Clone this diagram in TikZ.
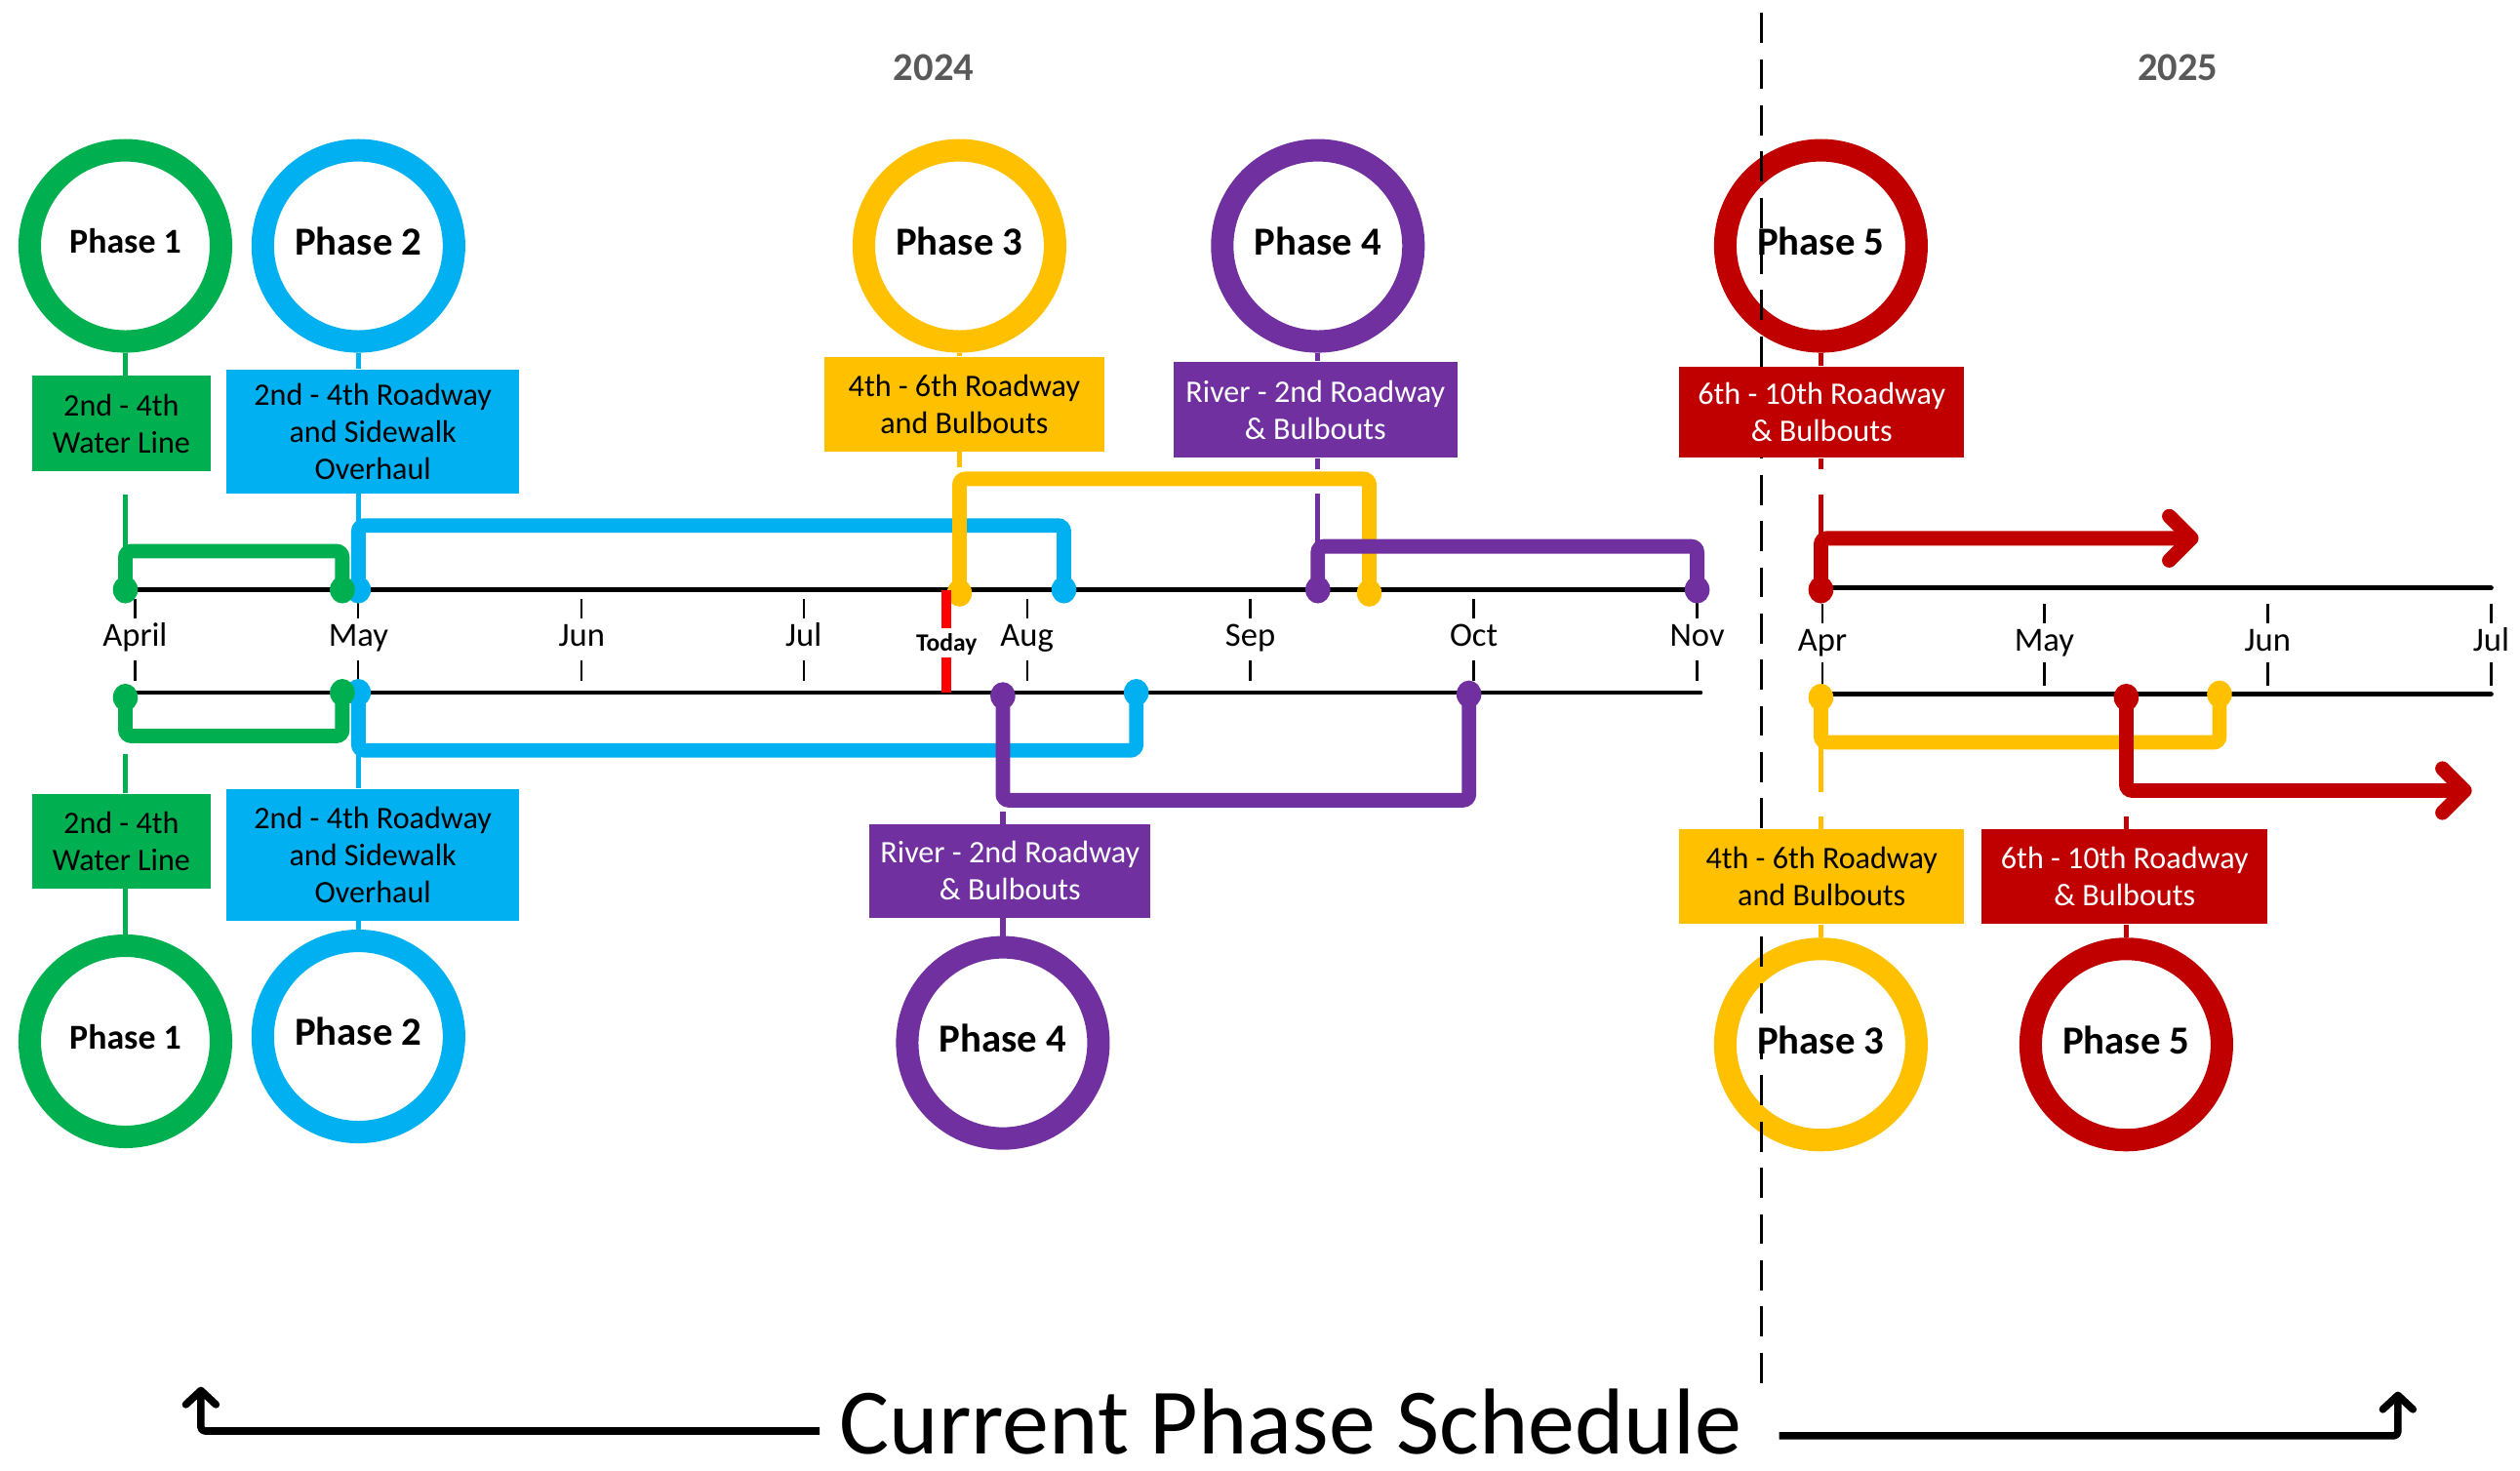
\documentclass[tikz,border=0pt]{standalone}
\usepackage{fontspec}
\setmainfont{Carlito}
\usetikzlibrary{arrows.meta}
\definecolor{pgreen}{HTML}{00B050}
\definecolor{pblue}{HTML}{00B0F0}
\definecolor{pyellow}{HTML}{FFC000}
\definecolor{ppurple}{HTML}{7030A0}
\definecolor{pred}{HTML}{C00000}
\definecolor{yeargray}{HTML}{595959}
\begin{document}
\begin{tikzpicture}[x=0.8pt,y=-0.8pt,
  ring/.style={circle, draw=#1, line width=11.2pt, fill=white, minimum size=95.2pt, inner sep=0pt, text depth=4.8pt, font=\bfseries\fontsize{19.8pt}{22pt}\selectfont},
  smallphase/.style={font=\bfseries\fontsize{17.4pt}{20pt}\selectfont},
  tag/.style={fill=#1, inner sep=0pt, align=center, font=\fontsize{15.6pt}{18.4pt}\selectfont},
  bracket/.style={draw=#1, line width=7.2pt, rounded corners=3pt},
  stem/.style={draw=#1, line width=2.6pt},
  timeline/.style={draw=black, line width=2.4pt, line cap=round},
  tickmark/.style={draw=black, line width=1.1pt},
  month/.style={font=\fontsize{16.8pt}{18pt}\selectfont, anchor=base, inner sep=0pt},
  year/.style={font=\bfseries\fontsize{19.7pt}{22pt}\selectfont, text=yeargray, anchor=base, inner sep=0pt},
  redarrow/.style={draw=pred, line width=7.2pt, rounded corners=3pt, -{Straight Barb[length=11pt,width=22pt,line cap=round,line join=round]}},
  titlearrow/.style={draw=black, line width=3.7pt, rounded corners=2pt, line join=round, -{Straight Barb[length=7pt,width=15pt,line cap=round,line join=round]}},
]
\useasboundingbox (0,0) rectangle (1568,915);

% ---------- timelines ----------
\coordinate (t1L) at (78,367);  \coordinate (t1R) at (1058,367);
\coordinate (t2L) at (78,431);  \coordinate (t2R) at (1058,431);
\coordinate (t3L) at (1133,366); \coordinate (t3R) at (1550,366);
\coordinate (t4L) at (1133,432); \coordinate (t4R) at (1550,432);
\draw[timeline] (t1L) -- (t1R);
\draw[timeline] (t2L) -- (t2R);
\draw[timeline] (t3L) -- (t3R);
\draw[timeline] (t4L) -- (t4R);

% ---------- ticks and month labels ----------
\foreach \x/\m in {84/April,223/May,362/Jun,500/Jul,639/Aug,778/Sep,917/Oct,1056/Nov}{
  \draw[tickmark] (\x,373) -- (\x,385);
  \draw[tickmark] (\x,411) -- (\x,424);
  \node[month] (m\m) at (\x,402) {\m};
}
\foreach \x/\m in {1134/Apr,1272/May,1411/Jun,1550/Jul}{
  \draw[tickmark] (\x,376) -- (\x,388);
  \draw[tickmark] (\x,412) -- (\x,427);
  \node[month] (n\m) at (\x,405) {\m};
}

% ---------- year labels ----------
\node[year] (y24) at (581,50) {2024};
\node[year] (y25) at (1355,50) {2025};

% ---------- top brackets ----------
\coordinate (gA) at (78,367); \coordinate (gTL) at (78,343); \coordinate (gTR) at (213,343); \coordinate (gB) at (213,367);
\coordinate (bA) at (223,367); \coordinate (bTL) at (223,327); \coordinate (bTR) at (662,327); \coordinate (bB) at (662,367);
\coordinate (yA) at (597,369); \coordinate (yTL) at (597,298); \coordinate (yTR) at (852,298); \coordinate (yB) at (852,369);
\coordinate (pA) at (820,367); \coordinate (pTL) at (820,340); \coordinate (pTR) at (1056,340); \coordinate (pB) at (1056,367);
\coordinate (rA) at (1133,367); \coordinate (rTL) at (1133,335); \coordinate (rTE) at (1368,335);
\draw[bracket=pblue] (bA) -- (bTL) -- (bTR) -- (bB);
\draw[bracket=pyellow] (yA) -- (yTL) -- (yTR) -- (yB);
\draw[bracket=ppurple] (pA) -- (pTL) -- (pTR) -- (pB);
\draw[bracket=pgreen] (gA) -- (gTL) -- (gTR) -- (gB);
\draw[redarrow] (rA) -- (rTL) -- (rTE);

% ---------- bottom brackets ----------
\coordinate (GA) at (78,434); \coordinate (GBL) at (78,458); \coordinate (GBR) at (213,458); \coordinate (GB) at (213,431);
\coordinate (BA) at (223,431); \coordinate (BBL) at (223,467); \coordinate (BBR) at (707,467); \coordinate (BB) at (707,431);
\coordinate (PA) at (624,433); \coordinate (PBL) at (624,498); \coordinate (PBR) at (914,498); \coordinate (PB) at (914,432);
\coordinate (YA) at (1133,434); \coordinate (YBL) at (1133,462); \coordinate (YBR) at (1381,462); \coordinate (YB) at (1381,432);
\coordinate (RA) at (1323,434); \coordinate (RBL) at (1323,492); \coordinate (RBE) at (1538,492);
\draw[bracket=pblue] (BA) -- (BBL) -- (BBR) -- (BB);
\draw[bracket=ppurple] (PA) -- (PBL) -- (PBR) -- (PB);
\draw[bracket=pgreen] (GA) -- (GBL) -- (GBR) -- (GB);
\draw[bracket=pyellow] (YA) -- (YBL) -- (YBR) -- (YB);
\draw[redarrow] (RA) -- (RBL) -- (RBE);

% ---------- dots ----------
\foreach \p/\c in {bA/pblue,bB/pblue,yA/pyellow,yB/pyellow,pA/ppurple,pB/ppurple,gA/pgreen,gB/pgreen,rA/pred,
                   BA/pblue,BB/pblue,PA/ppurple,PB/ppurple,GA/pgreen,GB/pgreen,YA/pyellow,YB/pyellow,RA/pred}{
  \fill[\c] (\p) ellipse [x radius=6.2pt, y radius=6.8pt];
}

% ---------- today marker ----------
\coordinate (tdA) at (589,367); \coordinate (tdB) at (589,391);
\coordinate (tdC) at (589,409); \coordinate (tdD) at (589,431);
\draw[red, line width=4.8pt] (tdA) -- (tdB);
\draw[red, line width=4.8pt] (tdC) -- (tdD);
\node[font=\bfseries\fontsize{12.4pt}{14pt}\selectfont, inner sep=0pt] (today) at (589,401) {Today};

% ---------- circles ----------
\node[ring=pgreen, smallphase] (c1t) at (78,153) {Phase 1};
\node[ring=pblue] (c2t) at (223,153) {Phase 2};
\node[ring=pyellow] (c3t) at (597,153) {Phase 3};
\node[ring=ppurple] (c4t) at (820,153) {Phase 4};
\node[ring=pred] (c5t) at (1133,153) {Phase 5};
\node[ring=pgreen, smallphase] (c1b) at (78,648) {Phase 1};
\node[ring=pblue] (c2b) at (223,645) {Phase 2};
\node[ring=ppurple] (c4b) at (624,649) {Phase 4};
\node[ring=pyellow] (c3b) at (1133,650) {Phase 3};
\node[ring=pred] (c5b) at (1323,650) {Phase 5};

% ---------- year divider ----------
\coordinate (divT) at (1096,8); \coordinate (divB) at (1096,865);
\draw[line width=1pt, dash pattern=on 15pt off 8pt] (divT) -- (divB);

% ---------- boxes ----------
\node[tag=pgreen, minimum width=88.8pt, minimum height=47.2pt] (b1t) at (75.5,263.5) {2nd - 4th\\Water Line};
\node[tag=pblue, minimum width=145.6pt, minimum height=61.6pt] (b2t) at (232,268.5) {2nd - 4th Roadway\\and Sidewalk\\Overhaul};
\node[tag=pyellow, minimum width=139.2pt, minimum height=47.2pt] (b3t) at (600,251.5) {4th - 6th Roadway\\and Bulbouts};
\node[tag=ppurple, text=white, minimum width=141.6pt, minimum height=48pt] (b4t) at (818.5,255) {River - 2nd Roadway\\\& Bulbouts};
\node[tag=pred, text=white, minimum width=141.6pt, minimum height=45.6pt] (b5t) at (1133.5,256.5) {6th - 10th Roadway\\\& Bulbouts};
\node[tag=pgreen, minimum width=88.8pt, minimum height=47.2pt] (b1b) at (75.5,523.5) {2nd - 4th\\Water Line};
\node[tag=pblue, minimum width=145.6pt, minimum height=65.6pt] (b2b) at (232,532) {2nd - 4th Roadway\\and Sidewalk\\Overhaul};
\node[tag=ppurple, text=white, minimum width=140pt, minimum height=46.4pt] (b4b) at (628.5,542) {River - 2nd Roadway\\\& Bulbouts};
\node[tag=pyellow, minimum width=141.6pt, minimum height=47.2pt] (b3b) at (1133.5,545.5) {4th - 6th Roadway\\and Bulbouts};
\node[tag=pred, text=white, minimum width=142.4pt, minimum height=47.2pt] (b5b) at (1322,545.5) {6th - 10th Roadway\\\& Bulbouts};

% ---------- stems circle -- box ----------
\draw[stem=pgreen]  (c1t.south) -- (c1t.south |- b1t.north);
\draw[stem=pblue]   (c2t.south) -- (c2t.south |- b2t.north);
\draw[stem=pyellow] (c3t.south) -- (c3t.south |- b3t.north);
\draw[stem=ppurple] (c4t.south) -- (c4t.south |- b4t.north);
\draw[stem=pred]    (c5t.south) -- (c5t.south |- b5t.north);
\draw[stem=pgreen]  (c1b.north |- b1b.south) -- (c1b.north);
\draw[stem=pblue]   (c2b.north |- b2b.south) -- (c2b.north);
\draw[stem=ppurple] (c4b.north |- b4b.south) -- (c4b.north);
\draw[stem=pyellow] (c3b.north |- b3b.south) -- (c3b.north);
\draw[stem=pred]    (c5b.north |- b5b.south) -- (c5b.north);

% ---------- stems box -- bracket ----------
\coordinate (gS) at (78,308);
\draw[stem=pgreen] (gS) -- (gTL);
\draw[stem=pblue] (bTL |- b2t.south) -- (bTL);
\coordinate (yS) at (597,291);
\draw[stem=pyellow] (yTL |- b3t.south) -- (yS);
\coordinate (pS1) at (820,292); \coordinate (pS2) at (820,307);
\draw[stem=ppurple] (pTL |- b4t.south) -- (pS1);
\draw[stem=ppurple] (pS2) -- (pTL);
\coordinate (rS1) at (1133,292); \coordinate (rS2) at (1133,308);
\draw[stem=pred] (rTL |- b5t.south) -- (rS1);
\draw[stem=pred] (rS2) -- (rTL);
\coordinate (GS) at (78,469);
\draw[stem=pgreen] (GS) -- (GS |- b1b.north);
\draw[stem=pblue] (BBL) -- (BBL |- b2b.north);
\coordinate (PS) at (624,505);
\draw[stem=ppurple] (PS) -- (PS |- b4b.north);
\coordinate (YS1) at (1133,493); \coordinate (YS2) at (1133,508);
\draw[stem=pyellow] (YBL) -- (YS1);
\draw[stem=pyellow] (YS2) -- (YS2 |- b3b.north);
\coordinate (RS) at (1323,508);
\draw[stem=pred] (RS) -- (RS |- b5b.north);

% ---------- title ----------
\node[font=\fontsize{46.6pt}{50pt}\selectfont, anchor=base, inner sep=0pt] (title) at (803,905) {Current Phase Schedule};
\coordinate (tlA) at (510,890.5); \coordinate (tlB) at (125,890.5); \coordinate (tlC) at (125,863);
\coordinate (trA) at (1107,893.5); \coordinate (trB) at (1492,893.5); \coordinate (trC) at (1492,866);
\draw[titlearrow] (tlA) -- (tlB) -- (tlC);
\draw[titlearrow] (trA) -- (trB) -- (trC);
\end{tikzpicture}
\end{document}
